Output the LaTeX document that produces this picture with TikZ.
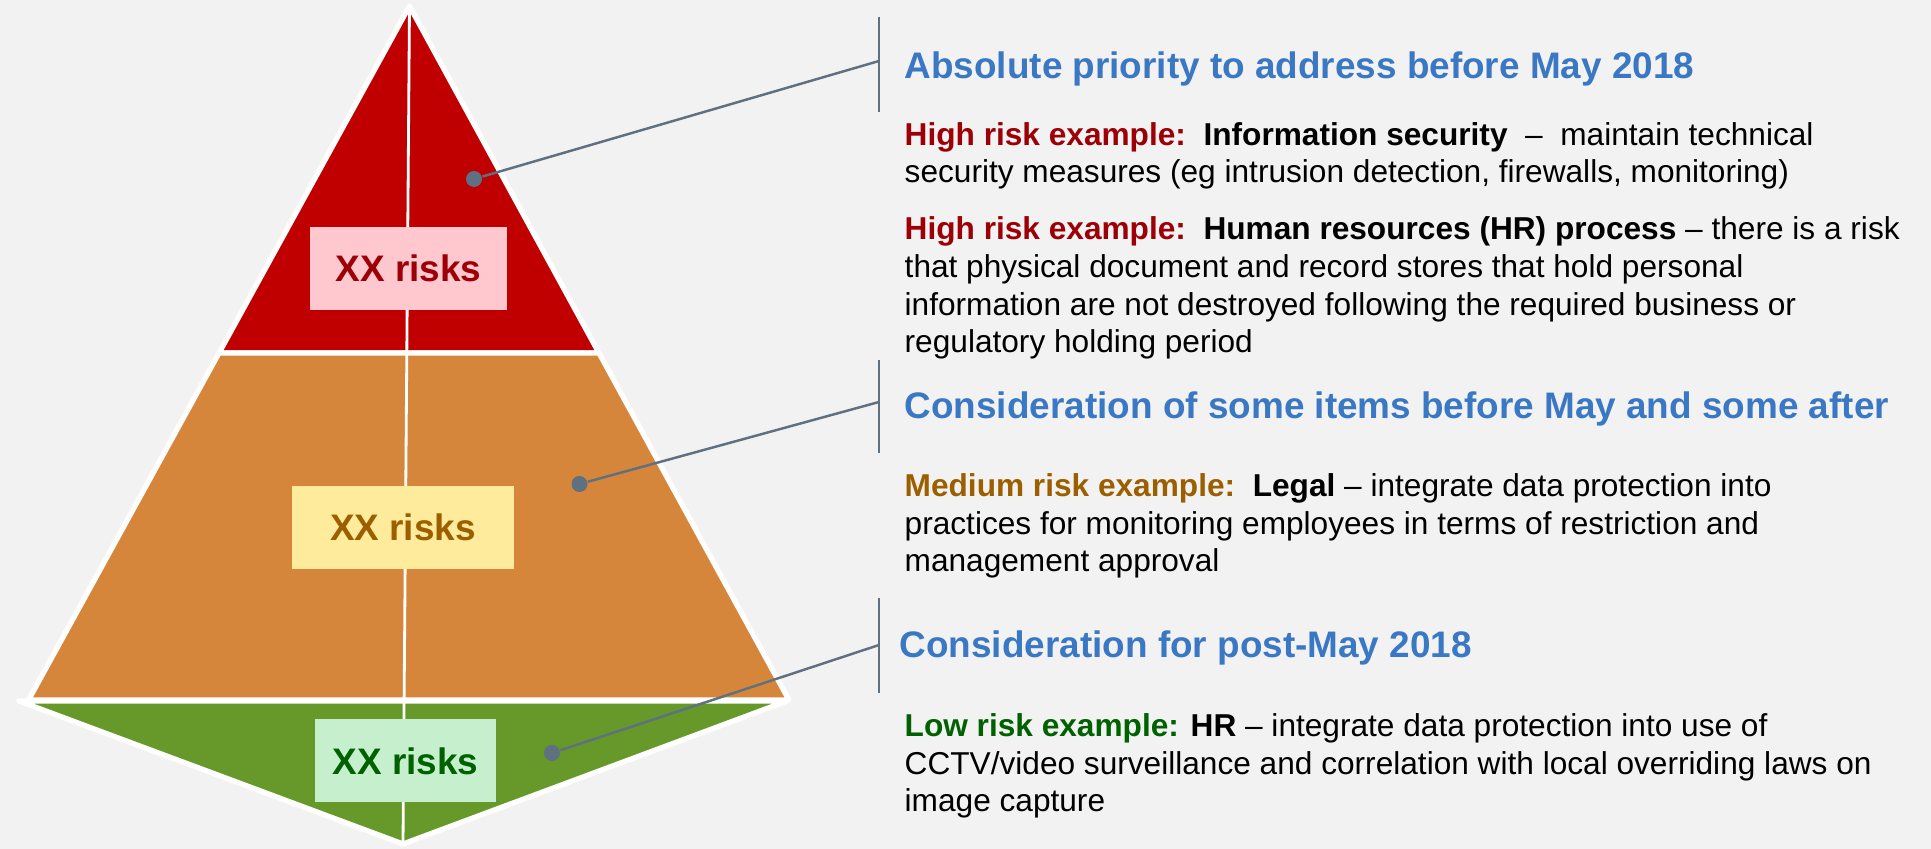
\documentclass[tikz,border=0pt]{standalone}
\usepackage{fontspec}
\setmainfont{Liberation Sans}

\definecolor{bgcol}{HTML}{F2F2F2}
\definecolor{highred}{HTML}{C00000}
\definecolor{midorange}{HTML}{D6863A}
\definecolor{lowgreen}{HTML}{66992A}
\definecolor{highbox}{HTML}{FFC7CE}
\definecolor{hightext}{HTML}{9C0006}
\definecolor{midbox}{HTML}{FFEB9C}
\definecolor{midtext}{HTML}{9C5F00}
\definecolor{lowbox}{HTML}{C6EFCE}
\definecolor{lowtext}{HTML}{006100}
\definecolor{headblue}{HTML}{3B78C4}
\definecolor{pointer}{HTML}{5F7080}

\begin{document}
\begin{tikzpicture}[
    layer/.style={draw=white, line width=1.5pt, line join=round},
    riskbox/.style={minimum width=#1, minimum height=0.83cm, inner sep=0pt, font=\fontsize{10.5}{12}\selectfont\bfseries},
    pin/.style={circle, fill=pointer, inner sep=0pt, minimum size=0.16cm},
    pointerline/.style={pointer, line width=0.7pt},
    bracket/.style={pointer, line width=0.6pt},
    heading/.style={anchor=base west, inner sep=0pt, text=headblue, font=\fontsize{10.5}{12}\selectfont\bfseries},
    body/.style={anchor=base west, inner sep=0pt, align=left, font=\fontsize{9}{10.8}\selectfont}
]
    \useasboundingbox (0,0) rectangle (19.31,8.49);
    \fill[bgcol] (0,0) rectangle (19.31,8.49);

    % Define the points of the pyramid
    \coordinate (T) at (4.095,8.43);
    \coordinate (RL) at (2.19,4.96);
    \coordinate (RR) at (5.99,4.96);
    \coordinate (OL) at (0.285,1.49);
    \coordinate (OR) at (7.89,1.49);
    \coordinate (GL) at (0.19,1.48);
    \coordinate (GR) at (7.87,1.48);
    \coordinate (B) at (4.03,0.05);

    % Draw the three layers
    \filldraw[layer, fill=highred] (T) -- (RL) -- (RR) -- cycle;
    \filldraw[layer, fill=midorange] (RL) -- (OL) -- (OR) -- (RR) -- cycle;
    \filldraw[layer, fill=lowgreen] (GL) -- (GR) -- (B) -- cycle;
    \draw[white, line width=0.8pt] (T) -- (B);

    % Risk count boxes
    \node[riskbox=1.97cm, fill=highbox, text=hightext] (highrisks) at (4.085,5.805) {XX risks};
    \node[riskbox=2.22cm, fill=midbox, text=midtext] (midrisks) at (4.03,3.215) {XX risks};
    \node[riskbox=1.81cm, fill=lowbox, text=lowtext] (lowrisks) at (4.055,0.88) {XX risks};

    % Brackets on the right
    \coordinate (hightop) at (8.79,8.32);
    \coordinate (highbot) at (8.79,7.37);
    \coordinate (highend) at (8.79,7.88);
    \coordinate (midtop) at (8.79,4.89);
    \coordinate (midbot) at (8.79,3.96);
    \coordinate (midend) at (8.79,4.47);
    \coordinate (lowtop) at (8.79,2.51);
    \coordinate (lowbot) at (8.79,1.56);
    \coordinate (lowend) at (8.79,2.04);
    \draw[bracket] (hightop) -- (highbot);
    \draw[bracket] (midtop) -- (midbot);
    \draw[bracket] (lowtop) -- (lowbot);

    % Pins and pointer lines
    \node[pin] (highpin) at (4.74,6.70) {};
    \node[pin] (midpin) at (5.795,3.65) {};
    \node[pin] (lowpin) at (5.52,0.96) {};
    \draw[pointerline] (highpin) -- (highend);
    \draw[pointerline] (midpin) -- (midend);
    \draw[pointerline] (lowpin) -- (lowend);

    % High risk text (body nodes sit on their last line)
    \node[heading] (highhead) at (9.04,7.70) {Absolute priority to address before May 2018};
    \node[body] (highnote1) at (9.04,6.66) {{\color{hightext}\bfseries High risk example:}\ \ {\bfseries Information security}\ \ –\ \ maintain technical\\
        security measures (eg intrusion detection, firewalls, monitoring)};
    \node[body] (highnote2) at (9.04,4.96) {{\color{hightext}\bfseries High risk example:}\ \ {\bfseries Human resources (HR) process} – there is a risk\\
        that physical document and record stores that hold personal\\
        information are not destroyed following the required business or\\
        regulatory holding period};

    % Medium risk text
    \node[heading] (midhead) at (9.04,4.30) {Consideration of some items before May and some after};
    \node[body] (midnote) at (9.04,2.77) {{\color{midtext}\bfseries Medium risk example:}\ \ {\bfseries Legal} – integrate data protection into\\
        practices for monitoring employees in terms of restriction and\\
        management approval};

    % Low risk text
    \node[heading] (lowhead) at (8.99,1.91) {Consideration for post-May 2018};
    \node[body] (lownote) at (9.04,0.37) {{\color{lowtext}\bfseries Low risk example:} {\bfseries HR} – integrate data protection into use of\\
        CCTV/video surveillance and correlation with local overriding laws on\\
        image capture};
\end{tikzpicture}
\end{document}
